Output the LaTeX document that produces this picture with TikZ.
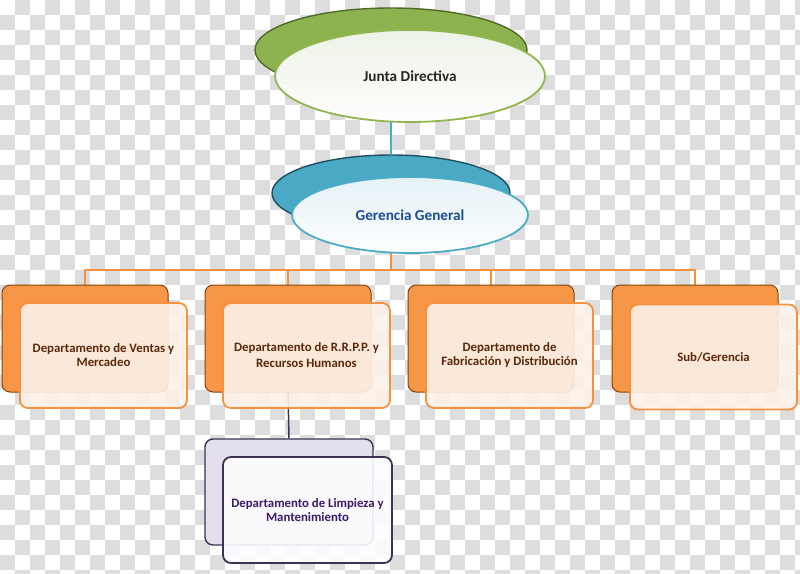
\documentclass[tikz,border=0pt]{standalone}
\usepackage{fontspec}
\setmainfont{Carlito}
\usetikzlibrary{shapes.geometric}
\definecolor{chk}{HTML}{DDDDDD}
\definecolor{grnfill}{HTML}{8DB350}
\definecolor{grndark}{HTML}{4E6B26}
\definecolor{grnline}{HTML}{8FB64F}
\definecolor{grntint}{HTML}{EEF3E8}
\definecolor{blufill}{HTML}{4AA9C4}
\definecolor{bludark}{HTML}{1F4F62}
\definecolor{bluline}{HTML}{4BACC6}
\definecolor{blutint}{HTML}{E6F2F7}
\definecolor{blutext}{HTML}{1C4C97}
\definecolor{orafill}{HTML}{F79646}
\definecolor{oradark}{HTML}{8A4208}
\definecolor{oraline}{HTML}{F5913F}
\definecolor{oratint}{HTML}{FDF2E9}
\definecolor{oratext}{HTML}{5A280A}
\definecolor{purfill}{HTML}{E4DFEC}
\definecolor{purdark}{HTML}{3F3151}
\definecolor{purtint}{HTML}{FDFCFE}
\definecolor{purtext}{HTML}{3A1B6B}
\pgfdeclarelayer{bg}
\pgfsetlayers{bg,main}
\begin{document}
\begin{tikzpicture}[x=1pt,y=-1pt,
  ellback/.style={ellipse,inner sep=0pt,line width=1.4pt},
  ellfront/.style={ellipse,inner sep=0pt,line width=1.8pt,font=\fontsize{15.2}{17}\selectfont\bfseries},
  boxback/.style={rectangle,rounded corners=8pt,inner sep=0pt,minimum width=166pt,minimum height=107pt,fill=orafill,draw=oradark,line width=1pt},
  boxfront/.style={rectangle,rounded corners=8pt,inner sep=0pt,minimum width=167pt,minimum height=105pt,draw=oraline,line width=1.8pt,fill=oratint,fill opacity=0.9,text opacity=1,text=oratext,align=center,font=\fontsize{12.8}{14}\selectfont\bfseries},
  pback/.style={boxback,minimum width=168pt,minimum height=106pt,fill=purfill,draw=purdark,line width=1.4pt},
  pfront/.style={boxfront,minimum width=169pt,minimum height=106pt,draw=purdark,fill=purtint,text=purtext},
  orline/.style={draw=oraline,line width=1.8pt},
  bline/.style={draw=bluline,line width=1.5pt},
  pline/.style={draw=purdark,line width=1.5pt}
]
\useasboundingbox (0,0) rectangle (800,573);
\begin{pgfonlayer}{bg}
\fill[white] (0,0) rectangle (800,573);
\begin{scope}
\clip (0,0) rectangle (800,573);
\foreach \j in {0,...,38}{
  \pgfmathtruncatemacro{\off}{mod(\j+1,2)}
  \foreach \i in {0,...,26}{
    \fill[chk] (\off*15+\i*30,\j*15) rectangle ++(15,15);
  }
}
\end{scope}
\end{pgfonlayer}

% Junta Directiva
\node[ellback,minimum width=272pt,minimum height=84pt,fill=grnfill,draw=grndark] (jb) at (391,50) {};
\node[ellfront,minimum width=270pt,minimum height=92pt,draw=grnline,top color=grntint,bottom color=white,middle color=grntint!60!white,text=black!85] (jf) at (410,76) {Junta Directiva};

% Gerencia General
\node[ellback,minimum width=238pt,minimum height=76pt,fill=blufill,draw=bludark] (gb) at (391,193) {};
\node[ellfront,minimum width=236pt,minimum height=76pt,draw=bluline,top color=blutint,bottom color=white,middle color=blutint!60!white,text=blutext] (gf) at (410,215) {Gerencia General};

% departments
\node[boxback] (ob1) at (85,338.5) {};
\node[boxback] (ob2) at (288,338.5) {};
\node[boxback] (ob3) at (491,338.5) {};
\node[boxback] (ob4) at (695,338.5) {};
\node[pback] (pb) at (289,492) {};

\coordinate (bus) at (391,270);
\begin{pgfonlayer}{bg}
\draw[bline] (jb.south) -- (gb.north);
\draw[orline] (gb.south) -- (bus);
\draw[orline] (ob1.north) |- (bus) -| (ob4.north);
\draw[orline] (ob2.north) -- (ob2.north |- bus);
\draw[orline] (ob3.north) -- (ob3.north |- bus);
\end{pgfonlayer}
\draw[pline] (ob2.south) -- (pb.north);

\node[boxfront] (of1) at (103.5,355.5) {Departamento de Ventas y\\Mercadeo};
\node[boxfront] (of2) at (306.5,355.5) {Departamento de R.R.P.P. y\\[2pt]Recursos Humanos};
\node[boxfront] (of3) at (509.5,355.5) {Departamento de\\Fabricación y Distribución};
\node[boxfront] (of4) at (713.5,357) {Sub/Gerencia};
\node[pfront] (pf) at (307.5,510) {Departamento de Limpieza y\\Mantenimiento};
\end{tikzpicture}
\end{document}
